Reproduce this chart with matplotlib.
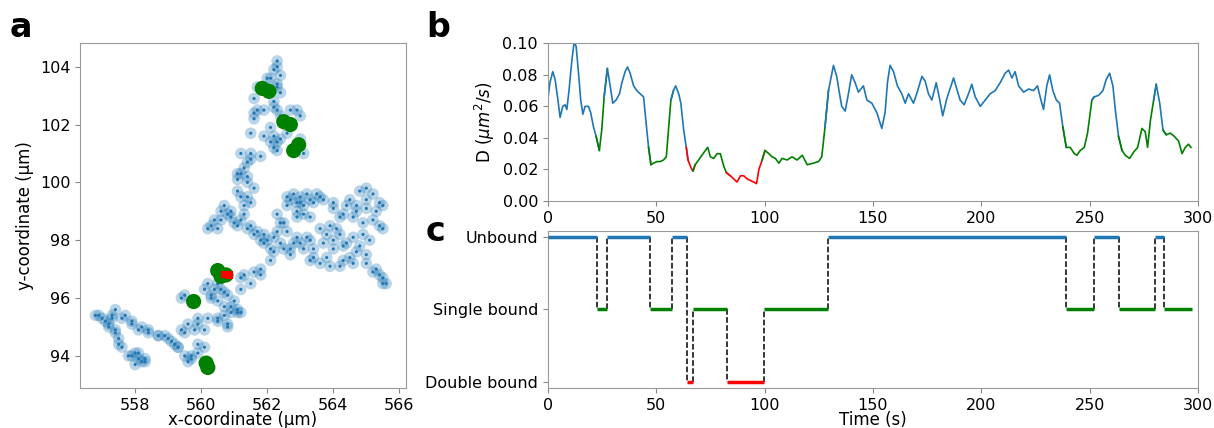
import matplotlib
matplotlib.use("Agg")
import matplotlib.pyplot as plt  # For plotting
import numpy as np               # For array manipulation

# ---- panel a: trajectory (positions, in um) ----
free_pts = [  # unbound positions (x, y)
    (556.9, 95.4), (557.1, 95.2), (557.3, 95.3), (557.2, 95.0), (557.4, 94.8), (557.5, 94.4),
    (557.8, 94.0), (558.1, 93.9), (558.3, 93.8), (558.0, 94.1), (557.6, 95.3), (557.9, 95.2),
    (558.1, 94.9), (558.4, 94.8), (558.7, 94.7), (559.0, 94.6), (559.2, 94.4), (559.3, 94.3),
    (559.5, 94.8), (559.8, 94.9), (559.6, 93.8), (559.7, 94.0), (559.9, 94.1), (560.1, 94.3),
    (559.9, 95.1), (560.2, 95.3), (560.5, 95.2), (560.8, 95.0), (560.7, 95.4), (560.9, 95.7),
    (561.1, 95.6), (561.2, 95.5), (560.3, 96.1), (560.6, 96.3), (560.5, 95.9), (560.2, 96.5),
    (560.8, 96.1), (559.4, 96.0), (561.3, 96.8), (561.6, 96.9), (561.8, 97.0), (562.1, 97.3),
    (562.2, 97.6), (561.9, 98.2), (562.2, 98.1), (562.0, 98.0), (561.7, 98.3), (562.5, 97.7),
    (562.8, 97.9), (562.7, 97.5), (560.3, 98.5), (560.6, 98.7), (560.8, 98.9), (561.0, 98.6),
    (561.2, 98.7), (561.5, 98.5), (560.7, 99.2), (560.9, 99.0), (561.1, 99.7), (561.4, 99.5),
    (561.3, 99.2), (561.2, 100.3), (561.4, 100.7), (561.1, 100.1), (561.5, 101.0), (561.8, 100.9),
    (561.9, 101.6), (562.1, 101.9), (562.2, 101.2), (561.6, 102.4), (561.9, 102.5), (562.3, 102.5),
    (562.7, 102.5), (562.2, 102.8), (562.0, 103.6), (562.2, 103.9), (562.3, 104.2), (561.7, 103.3),
    (562.3, 103.3), (562.3, 101.1), (562.3, 101.4), (563.1, 101.0), (562.6, 101.7), (563.0, 101.5),
    (562.7, 99.4), (563.0, 99.5), (563.3, 99.4), (563.6, 99.5), (563.1, 99.2), (562.9, 98.8),
    (563.3, 98.8), (562.4, 98.6), (562.6, 98.3), (563.0, 97.9), (563.4, 97.7), (563.3, 98.0),
    (563.4, 97.4), (563.8, 97.4), (563.8, 98.2), (564.0, 98.0), (564.1, 98.4), (564.0, 99.1),
    (564.3, 98.9), (564.7, 99.2), (565.0, 99.4), (564.8, 99.7), (565.4, 99.3), (564.6, 98.8),
    (565.4, 98.5), (564.4, 97.9), (564.7, 97.6), (565.0, 97.2), (565.3, 97.0), (565.5, 96.7),
    (565.6, 96.5), (564.2, 97.1), (565.1, 98.0), (565.3, 99.0), (564.9, 98.2),
    (562.3, 104.0), (562.4, 103.7), (562.1, 103.6), (562.3, 103.4), (562.4, 103.1), (561.6, 102.9),
    (561.7, 102.5), (561.6, 102.2), (562.2, 102.6), (562.4, 102.3), (562.9, 102.5), (563.0, 102.3),
    (562.2, 101.6), (562.1, 101.4), (562.4, 101.5), (561.5, 101.7), (561.2, 101.0), (561.5, 100.8),
    (561.3, 100.5), (561.4, 100.2), (561.1, 100.3), (561.4, 100.0), (561.6, 99.8), (561.2, 99.5),
    (561.5, 99.3), (560.4, 98.7), (560.6, 99.0), (560.9, 98.8), (561.1, 98.5), (561.4, 98.4),
    (560.2, 98.4), (560.5, 98.4), (561.3, 98.9), (561.6, 98.2), (561.9, 97.9), (562.1, 97.7),
    (562.4, 97.9), (562.3, 98.3), (561.8, 98.0), (562.5, 98.6), (562.3, 98.9), (562.6, 99.2),
    (562.9, 99.0), (563.1, 98.9), (562.6, 99.5), (562.8, 99.6), (563.0, 99.3), (563.2, 99.6),
    (563.4, 99.3), (563.5, 99.6), (563.7, 99.4), (562.9, 99.3), (562.9, 98.1), (563.1, 97.7),
    (563.2, 98.1), (562.7, 97.7), (563.3, 97.3), (563.6, 97.2), (563.9, 97.1), (563.6, 98.4),
    (563.9, 98.5), (564.2, 98.2), (563.7, 97.9), (564.0, 97.7), (564.3, 97.8), (564.0, 99.3),
    (564.2, 98.8), (564.4, 99.2), (564.5, 99.4), (564.7, 99.0), (565.0, 99.1), (565.2, 99.6),
    (565.5, 99.2), (565.2, 98.7), (565.5, 98.4), (564.9, 98.6), (565.0, 99.8), (564.5, 97.4),
    (564.8, 97.8), (565.0, 97.5), (564.6, 98.1), (565.2, 96.9), (565.5, 96.5), (565.4, 96.8),
    (564.3, 97.3), (564.6, 97.2),
    (556.8, 95.4), (557.0, 95.3), (557.2, 95.1), (557.3, 95.4), (557.4, 95.6), (557.4, 94.9),
    (557.5, 94.6), (557.6, 94.3), (557.9, 94.0), (558.1, 94.1), (558.3, 93.9), (558.0, 93.7),
    (558.2, 93.8), (557.7, 95.4), (557.9, 95.1), (558.2, 95.0), (558.4, 94.9), (558.7, 94.7),
    (558.9, 94.7), (559.1, 94.5), (559.3, 94.3), (559.4, 94.9), (559.6, 95.1), (559.9, 95.3),
    (560.1, 94.9), (559.5, 94.0), (559.7, 93.9), (559.9, 94.4), (560.5, 95.3), (560.8, 95.1),
    (560.9, 95.5), (560.7, 95.7), (561.0, 95.9), (561.1, 95.5), (560.1, 96.3), (560.3, 96.0),
    (560.5, 96.5), (560.7, 96.2), (560.4, 96.3), (559.5, 96.1), (561.2, 96.7), (561.5, 96.5),
    (561.8, 96.8), (561.2, 96.3)]
single_pts = [(561.85, 103.25), (562.05, 103.15), (562.5, 102.1), (562.7, 102.0), (562.8, 101.1),
              (562.95, 101.3), (560.5, 96.95), (560.75, 96.8), (560.6, 96.75), (559.77, 95.88),
              (560.15, 93.75), (560.2, 93.6)]
double_pts = [(560.72, 96.82), (560.85, 96.8)]

# ---- panel b: diffusion coefficient D (um^2/s) vs time (s) ----
time_d = [0, 1, 2.3, 3.4, 4.5, 5.7, 6.9, 8, 8.8, 9.8, 11.1, 12.2, 13.1, 14.2, 15.2, 16.2,
          17.2, 18.8, 19.8, 21.1, 22.3, 23.8, 24.9, 26, 27.5, 28.8, 30, 31.5, 33.1, 34.2,
          35.7, 36.8, 38, 39.6, 41.1, 42.6, 44.2, 45.4, 46.5, 47.6, 48.8, 50.4, 51.9, 53.4,
          54.7, 55.8, 56.8, 58, 59, 60.4, 61.4, 62.7, 63.9, 64.7, 66.1, 67, 68, 69.6, 71.1,
          72.7, 73.8, 75, 76.6, 78.1, 79.6, 81.2, 82.4, 84.2, 85.8, 87.3, 88.9, 90.4, 92,
          93.5, 95, 96.3, 97.4, 98.9, 100.2, 102, 103.5, 105, 106.6, 108.1, 110.4, 112.7,
          115, 117.4, 119.7, 122.6, 124.9, 126.4, 127.9, 129.5, 131.8, 133.3, 134.6, 135.6,
          137.2, 138.7, 140.2, 141.8, 143.3, 145.6, 147.2, 149.5, 151.8, 154.1, 155.6, 156.7,
          157.9, 159.5, 161.3, 163.3, 164.9, 166.4, 168.7, 170.2, 172.6, 174.1, 175.6, 177.2,
          179.2, 180.7, 182.2, 184.1, 187.2, 188.7, 190.2, 192.1, 194.1, 195.6, 197.2, 199.5,
          201.8, 204.1, 206.4, 208.7, 211, 212.6, 214.1, 215.6, 217.2, 219.5, 221.8, 224.1,
          225.9, 227.5, 228.7, 230.2, 231.5, 233, 234.6, 236.1, 237.6, 239.2, 241, 242.9,
          244.1, 245.6, 247.5, 249, 251, 252.1, 254.1, 256.1, 257.6, 259.2, 260.7, 261.8,
          263.3, 264.9, 266.4, 268.4, 270.3, 272.1, 274.1, 275.6, 276.7, 278, 279.5, 280.7,
          282.3, 283.8, 285.3, 287.2, 289, 291, 292.6, 294.1, 295.6, 296.7]
d_coef = [0.064, 0.075, 0.082, 0.077, 0.066, 0.053, 0.060, 0.061, 0.058, 0.070, 0.089, 0.101,
          0.098, 0.081, 0.064, 0.055, 0.060, 0.060, 0.056, 0.047, 0.041, 0.032, 0.045, 0.066,
          0.084, 0.073, 0.062, 0.064, 0.068, 0.075, 0.082, 0.085, 0.081, 0.073, 0.070, 0.068,
          0.066, 0.049, 0.034, 0.023, 0.024, 0.025, 0.025, 0.026, 0.028, 0.047, 0.064, 0.070,
          0.073, 0.068, 0.062, 0.045, 0.034, 0.026, 0.021, 0.019, 0.023, 0.026, 0.029, 0.032,
          0.034, 0.028, 0.027, 0.030, 0.030, 0.022, 0.018, 0.016, 0.014, 0.012, 0.016, 0.016,
          0.014, 0.013, 0.012, 0.011, 0.020, 0.026, 0.032, 0.030, 0.028, 0.027, 0.024, 0.027,
          0.026, 0.028, 0.026, 0.029, 0.023, 0.024, 0.025, 0.028, 0.047, 0.070, 0.086, 0.079,
          0.068, 0.060, 0.057, 0.068, 0.080, 0.075, 0.069, 0.073, 0.064, 0.062, 0.056, 0.046,
          0.056, 0.075, 0.086, 0.082, 0.073, 0.068, 0.062, 0.068, 0.062, 0.068, 0.079, 0.076,
          0.068, 0.064, 0.075, 0.065, 0.054, 0.065, 0.078, 0.071, 0.064, 0.061, 0.068, 0.074,
          0.066, 0.060, 0.064, 0.068, 0.070, 0.075, 0.081, 0.083, 0.078, 0.082, 0.073, 0.069,
          0.071, 0.070, 0.073, 0.064, 0.058, 0.073, 0.080, 0.070, 0.064, 0.062, 0.047, 0.034,
          0.034, 0.030, 0.029, 0.032, 0.034, 0.043, 0.064, 0.066, 0.067, 0.070, 0.077, 0.081,
          0.073, 0.058, 0.041, 0.032, 0.029, 0.027, 0.031, 0.034, 0.046, 0.044, 0.034, 0.051,
          0.064, 0.074, 0.062, 0.045, 0.042, 0.043, 0.041, 0.038, 0.030, 0.034, 0.036, 0.034]

# ---- panel c: binding state segments (s) ----
state_edges = [0, 22.6, 27.2, 47.2, 57.5, 64.1, 67.2, 82.6, 99.8, 129.5, 239.0, 251.8,
               263.6, 280.0, 284.1, 297.2]
state_level = [2, 1, 2, 1, 2, 0, 1, 0, 1, 2, 1, 2, 1, 2, 1]   # 2 unbound, 1 single, 0 double
state_names = ["Double bound", "Single bound", "Unbound"]

COLORS = {2: "#1f77b4", 1: "green", 0: "red"}
FS = 11.5


def main():
    fig = plt.figure(figsize=(12.14, 4.28), dpi=100)
    ax_a = fig.add_axes([0.0659, 0.0935, 0.2685, 0.806])
    ax_b = fig.add_axes([0.4512, 0.5304, 0.5357, 0.3685])
    ax_c = fig.add_axes([0.4512, 0.0935, 0.5357, 0.3668])

    # a: trajectory
    fx, fy = zip(*free_pts)
    sx, sy = zip(*single_pts)
    dx, dy = zip(*double_pts)
    ax_a.scatter(fx, fy, s=70, color="#1f77b4", alpha=0.3, edgecolors="none")
    ax_a.scatter(fx, fy, s=5, color="#1f77b4", edgecolors="none")
    ax_a.scatter(sx, sy, s=120, color="green", edgecolors="none")
    ax_a.scatter(dx, dy, s=30, marker="s", color="red", edgecolors="none")
    ax_a.set_xlim(556.33, 566.2)
    ax_a.set_ylim(92.89, 104.82)
    ax_a.set_xticks(np.arange(558, 567, 2))
    ax_a.set_yticks(np.arange(94, 105, 2))
    ax_a.set_xlabel("x-coordinate (µm)", fontsize=FS + 0.5, labelpad=-1)
    ax_a.set_ylabel("y-coordinate (µm)", fontsize=FS + 0.5)

    # b: D(t) coloured by state
    t = np.array(time_d)
    d = np.array(d_coef)
    for i, lvl in enumerate(state_level):
        lo = np.searchsorted(t, state_edges[i])
        hi = np.searchsorted(t, state_edges[i + 1]) + 1    # one extra point to join segments
        lo = max(lo - 1, 0) if i > 0 else 0
        ax_b.plot(t[lo:hi], d[lo:hi], color=COLORS[lvl], lw=1.2)
    ax_b.set_xlim(0, 300)
    ax_b.set_ylim(0, 0.1)
    ax_b.set_yticks([0, 0.02, 0.04, 0.06, 0.08, 0.10])
    ax_b.set_yticklabels(["0.00", "0.02", "0.04", "0.06", "0.08", "0.10"])
    ax_b.set_ylabel(r"D ($\mu m^2/s$)", fontsize=FS + 0.5)

    # c: state steps with dashed transitions
    for i, lvl in enumerate(state_level):
        ax_c.plot([state_edges[i], state_edges[i + 1]], [lvl, lvl], color=COLORS[lvl], lw=2.5,
                  solid_capstyle="butt", zorder=3)
        if i > 0:
            ax_c.plot([state_edges[i], state_edges[i]], [state_level[i - 1], lvl],
                      color="black", ls="--", lw=1.1, zorder=2)
    ax_c.set_xlim(0, 300)
    ax_c.set_ylim(-0.09, 2.09)
    ax_c.set_yticks([0, 1, 2])
    ax_c.set_yticklabels(state_names)
    ax_c.set_xlabel("Time (s)", fontsize=FS + 0.5, labelpad=-1)

    for ax in (ax_a, ax_b, ax_c):
        ax.tick_params(labelsize=FS, color="#888888", length=3.5)
        for sp in ax.spines.values():
            sp.set_color("#999999")

    # panel letters
    fig.text(0.008, 0.935, "a", fontsize=24, fontweight="bold", va="center")
    fig.text(0.351, 0.935, "b", fontsize=24, fontweight="bold", va="center")
    fig.text(0.351, 0.46, "c", fontsize=24, fontweight="bold", va="center")

    fig.savefig("out.png", dpi=100)


if __name__ == "__main__":
    main()
